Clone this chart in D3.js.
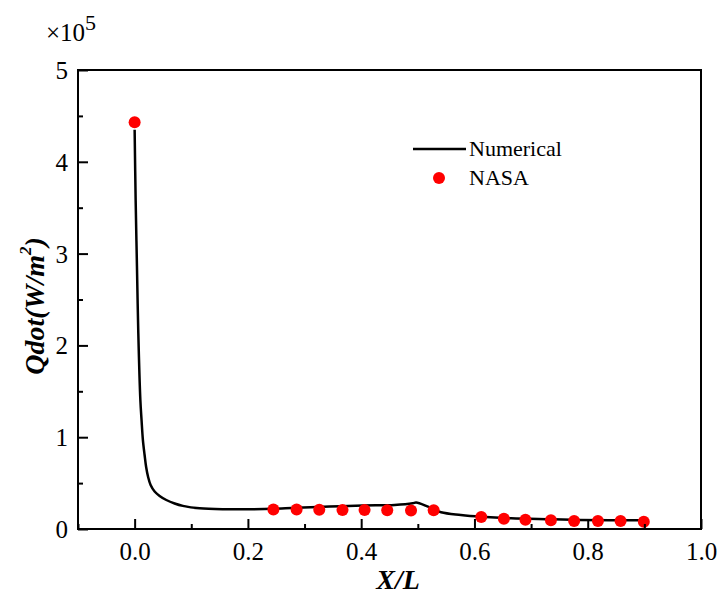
<!DOCTYPE html>
<html>
<head>
<meta charset="utf-8">
<script src="https://cdn.jsdelivr.net/npm/d3@7/dist/d3.min.js"></script>
<style>
  html, body { margin: 0; padding: 0; background: #fff; }
  svg { display: block; }
  svg text, svg tspan { font-family: "Liberation Serif", serif !important; fill: #000; }
</style>
</head>
<body>
<script>
// Data (Qdot in units of 1e5 W/m^2)
const numX = [0.000, 0.0018, 0.0041, 0.0065, 0.0101, 0.0122, 0.0146, 0.0176, 0.0203, 0.0238, 0.0282, 0.0353, 0.0441, 0.0559, 0.0706, 0.0852, 0.1147, 0.162, 0.203, 0.244, 0.285, 0.344, 0.403, 0.459, 0.491, 0.497, 0.518, 0.541, 0.576, 0.612, 0.665, 0.738, 0.785, 0.905];
const numY = [4.35, 3.58, 2.86, 2.13, 1.405, 1.187, 0.969, 0.806, 0.675, 0.566, 0.479, 0.408, 0.360, 0.316, 0.278, 0.252, 0.225, 0.215, 0.215, 0.220, 0.232, 0.245, 0.256, 0.262, 0.280, 0.289, 0.243, 0.182, 0.153, 0.134, 0.117, 0.106, 0.098, 0.094];
const nasaX = [0.0, 0.245, 0.286, 0.326, 0.367, 0.406, 0.446, 0.488, 0.528, 0.612, 0.652, 0.690, 0.735, 0.776, 0.818, 0.858, 0.899];
const nasaY = [4.43, 0.212, 0.212, 0.210, 0.208, 0.206, 0.205, 0.202, 0.204, 0.131, 0.112, 0.101, 0.095, 0.087, 0.087, 0.087, 0.080];
const xTicks = [0.0, 0.2, 0.4, 0.6, 0.8, 1.0];
const xMinor = [-0.1, 0.1, 0.3, 0.5, 0.7, 0.9];
const yTicks = [0, 1, 2, 3, 4, 5];
const yMinor = [0.5, 1.5, 2.5, 3.5, 4.5];
const seriesNames = ["Numerical", "NASA"];

const W = 719, H = 596;
const m = { left: 78, right: 18, top: 70, bottom: 67 };
const svg = d3.select("body").append("svg").attr("width", W).attr("height", H);

const x = d3.scaleLinear().domain([-0.1, 1.0]).range([m.left, W - m.right]);
const y = d3.scaleLinear().domain([0, 5]).range([H - m.bottom, m.top]);

// Numerical line
const line = d3.line().x(d => x(d[0])).y(d => y(d[1])).curve(d3.curveCatmullRom.alpha(0.5));
svg.append("path")
  .datum(numX.map((v, i) => [v, numY[i]]))
  .attr("d", line)
  .attr("fill", "none").attr("stroke", "#000").attr("stroke-width", 2.5)
  .attr("stroke-linejoin", "round");

// NASA points
svg.append("g").selectAll("circle")
  .data(nasaX.map((v, i) => [v, nasaY[i]]))
  .join("circle")
  .attr("cx", d => x(d[0])).attr("cy", d => y(d[1])).attr("r", 6)
  .attr("fill", "#ff0000");

// Axes
const fs = 25;
const xAxis = d3.axisBottom(x).tickValues(xTicks).tickSize(-10).tickPadding(13)
  .tickFormat(d3.format(".1f"));
const gx = svg.append("g").attr("transform", `translate(0,${y(0)})`).call(xAxis);
const gxm = svg.append("g").attr("transform", `translate(0,${y(0)})`)
  .call(d3.axisBottom(x).tickValues(xMinor).tickSize(-5).tickFormat(""));
const yAxis = d3.axisLeft(y).tickValues(yTicks).tickSize(-10).tickPadding(10)
  .tickFormat(d3.format("d"));
const gy = svg.append("g").attr("transform", `translate(${x(-0.1)},0)`).call(yAxis);
const gym = svg.append("g").attr("transform", `translate(${x(-0.1)},0)`)
  .call(d3.axisLeft(y).tickValues(yMinor).tickSize(-5).tickFormat(""));

[gx, gxm, gy, gym].forEach(g => {
  g.attr("font-family", null).attr("font-size", fs);
  g.select(".domain").remove();
  g.selectAll(".tick line").attr("stroke", "#000").attr("stroke-width", 2);
  g.selectAll(".tick text").attr("font-size", fs).attr("fill", "#000");
});
gy.selectAll(".tick text").attr("dy", "0.34em");

// Frame
svg.append("rect")
  .attr("x", x(-0.1)).attr("y", y(5))
  .attr("width", x(1.0) - x(-0.1)).attr("height", y(0) - y(5))
  .attr("fill", "none").attr("stroke", "#000").attr("stroke-width", 2);

// Multiplier label
const mult = svg.append("text").attr("x", 46).attr("y", 41).attr("font-size", fs);
mult.append("tspan").text("×10");
mult.append("tspan").attr("dy", -11).attr("font-size", 22).text("5");

// Axis titles
svg.append("text").attr("x", 398).attr("y", 589).attr("text-anchor", "middle")
  .attr("font-size", 28).attr("font-weight", "bold").attr("font-style", "italic")
  .text("X/L");

const yt = svg.append("text")
  .attr("transform", "translate(44,306) rotate(-90)")
  .attr("text-anchor", "middle")
  .attr("font-size", 28).attr("font-weight", "bold").attr("font-style", "italic");
yt.append("tspan").text("Qdot(W/m");
yt.append("tspan").attr("dy", -13).attr("font-size", 17).text("2");
yt.append("tspan").attr("dy", 13).text(")");

// Legend
const lg = svg.append("g");
lg.append("line").attr("x1", 413).attr("x2", 466).attr("y1", 149).attr("y2", 149)
  .attr("stroke", "#000").attr("stroke-width", 2.5);
lg.append("text").attr("x", 469).attr("y", 156).attr("font-size", 22).text(seriesNames[0]);
lg.append("circle").attr("cx", 439).attr("cy", 178).attr("r", 6).attr("fill", "#ff0000");
lg.append("text").attr("x", 469).attr("y", 185).attr("font-size", 22).text(seriesNames[1]);
</script>
</body>
</html>
